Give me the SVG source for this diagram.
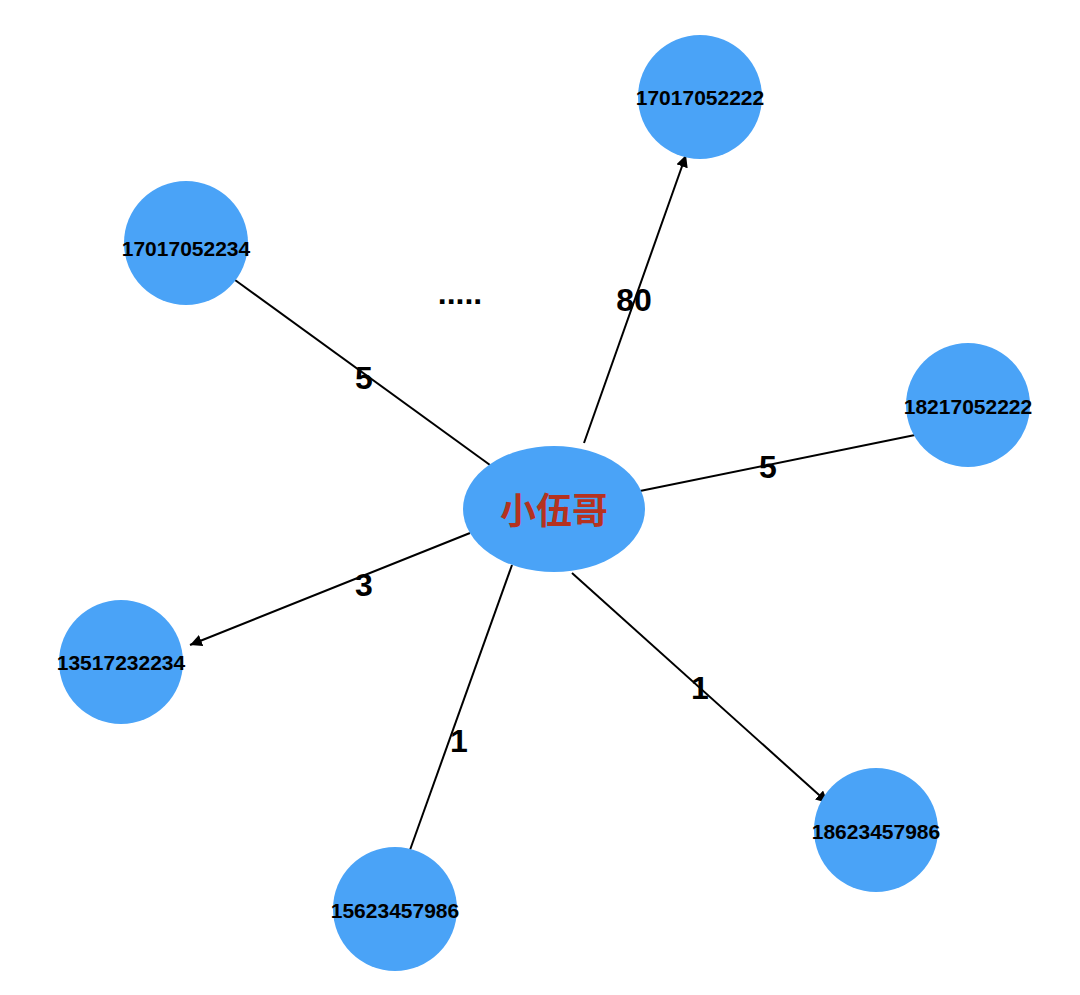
<svg xmlns="http://www.w3.org/2000/svg" width="1080" height="995" viewBox="0 0 1080 995">
<style>
.n{fill:#4aa3f7}
.t{font-family:"Liberation Sans",Arial,sans-serif;font-weight:bold;font-size:21px;fill:#000;text-anchor:middle}
.e{stroke:#000;stroke-width:2;fill:none}
.l{font-family:"Liberation Sans",Arial,sans-serif;font-weight:bold;font-size:32px;fill:#000;text-anchor:middle}
</style>
<defs><marker id="a" viewBox="0 0 10 10" refX="10" refY="5" markerWidth="6" markerHeight="6" orient="auto"><path d="M0,0L10,5L0,10z" fill="#000"/></marker></defs>
<rect width="1080" height="995" fill="#fff"/>
<g id="edges">
<line class="e" x1="584" y1="443" x2="686" y2="155" marker-end="url(#a)"/>
<line class="e" x1="490" y1="465" x2="235" y2="280"/>
<line class="e" x1="640" y1="491" x2="915" y2="435"/>
<line class="e" x1="470" y1="533" x2="190" y2="645" marker-end="url(#a)"/>
<line class="e" x1="512" y1="565" x2="410" y2="850"/>
<line class="e" x1="572" y1="573" x2="828" y2="803" marker-end="url(#a)"/>
<text class="l" x="634" y="311">80</text>
<text class="l" x="364" y="389">5</text>
<text class="l" x="768" y="478">5</text>
<text class="l" x="364" y="596">3</text>
<text class="l" x="459" y="752">1</text>
<text class="l" x="700" y="699">1</text>
<text class="l" x="460" y="304">.....</text>
</g>
<g id="n1"><circle class="n" cx="700" cy="97" r="62"/><text class="t" x="700" y="105">17017052222</text></g>
<g id="n2"><circle class="n" cx="186" cy="243" r="62"/><text class="t" x="186" y="256">17017052234</text></g>
<g id="n3"><circle class="n" cx="968" cy="405" r="62"/><text class="t" x="968" y="414">18217052222</text></g>
<g id="n4"><circle class="n" cx="121" cy="662" r="62"/><text class="t" x="121" y="670">13517232234</text></g>
<g id="n5"><circle class="n" cx="395" cy="909" r="62"/><text class="t" x="395" y="918">15623457986</text></g>
<g id="n6"><circle class="n" cx="876" cy="830" r="62"/><text class="t" x="876" y="839">18623457986</text></g>
<g id="c"><ellipse class="n" cx="554" cy="509" rx="91" ry="63"/><text x="554" y="524" text-anchor="middle" font-family="'Noto Sans CJK SC',sans-serif" font-weight="bold" font-size="36" fill="#b5321f">小伍哥</text></g>
</svg>
